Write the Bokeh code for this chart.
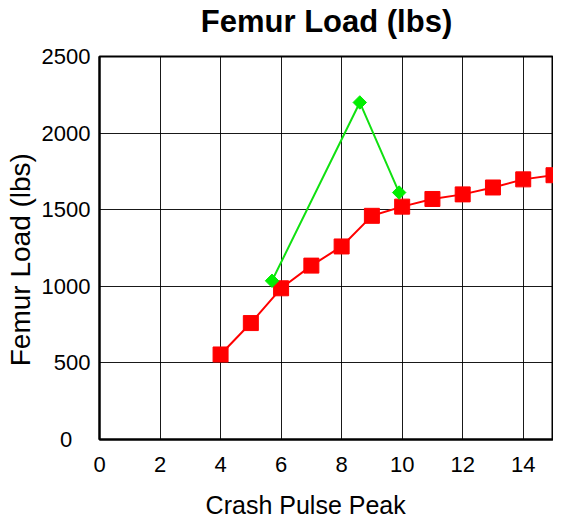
from bokeh.plotting import figure
from bokeh.models import Range1d, FixedTicker, Title
from bokeh.embed import file_html
from bokeh.resources import INLINE
import math

# Data
red_x = [4, 5, 6, 7, 8, 9, 10, 11, 12, 13, 14, 15]
red_y = [555, 760, 987, 1135, 1260, 1460, 1520, 1570, 1600, 1645, 1698, 1725]
green_x = [5.7, 8.6, 9.9]
green_y = [1036, 2200, 1612]
x_ticks = [0, 2, 4, 6, 8, 10, 12, 14]
y_ticks = [0, 500, 1000, 1500, 2000, 2500]
title_text = "Femur Load (lbs)"
x_title = "Crash Pulse Peak"
y_title = "Femur Load (lbs)"

FONT = "Liberation Sans"
NBSP = "\u00a0"

p = figure(width=553, height=521, output_backend="svg", toolbar_location=None,
           x_range=Range1d(0, 15), y_range=Range1d(0, 2500), title=None,
           min_border_left=99, min_border_right=0, min_border_top=56, min_border_bottom=81)

# spacer between frame and title, then the title itself
p.add_layout(Title(text=" ", text_font_size="12px", standoff=2), "above")
p.add_layout(Title(text=title_text, text_font=FONT, text_font_size="31px",
                   text_font_style="bold", text_color="black", align="center",
                   standoff=0), "above")

p.outline_line_color = "black"
p.outline_line_width = 2
p.outline_line_alpha = 1

for ax in (p.xaxis[0], p.yaxis[0]):
    ax.axis_line_color = "black"
    ax.axis_line_width = 2
    ax.major_tick_line_color = None
    ax.major_tick_in = 0
    ax.major_tick_out = 0
    ax.minor_tick_line_color = None
    ax.major_label_text_font = FONT
    ax.major_label_text_font_size = "22px"
    ax.major_label_text_color = "black"
    ax.axis_label_text_font = FONT
    ax.axis_label_text_font_style = "normal"
    ax.axis_label_text_color = "black"

p.xaxis.ticker = FixedTicker(ticks=x_ticks)
p.yaxis.ticker = FixedTicker(ticks=y_ticks)
p.yaxis.major_label_overrides = {0: "0" + NBSP * 3}
p.xaxis.axis_label = x_title + NBSP * 6
p.yaxis.axis_label = y_title + NBSP * 3
p.xaxis.axis_label_text_font_size = "25px"
p.yaxis.axis_label_text_font_size = "28px"
p.xaxis.major_label_standoff = 17
p.yaxis.major_label_standoff = 9
p.xaxis.axis_label_standoff = 16
p.yaxis.axis_label_standoff = 3

p.xgrid.grid_line_color = "black"
p.ygrid.grid_line_color = "black"
p.xgrid.grid_line_width = 1
p.ygrid.grid_line_width = 1
p.xgrid.grid_line_alpha = 0.9
p.ygrid.grid_line_alpha = 0.9

p.line(red_x, red_y, line_color="#ff0000", line_width=2)
p.scatter(red_x, red_y, marker="square", size=15, fill_color="#ff0000", line_color="#ff0000")

p.line(green_x, green_y, line_color="#11e011", line_width=2)
p.scatter(green_x, green_y, marker="square", size=9.5, angle=math.pi / 4,
          fill_color="#00ee00", line_color="#00ee00")

open("out.html", "w").write(file_html(p, INLINE))
